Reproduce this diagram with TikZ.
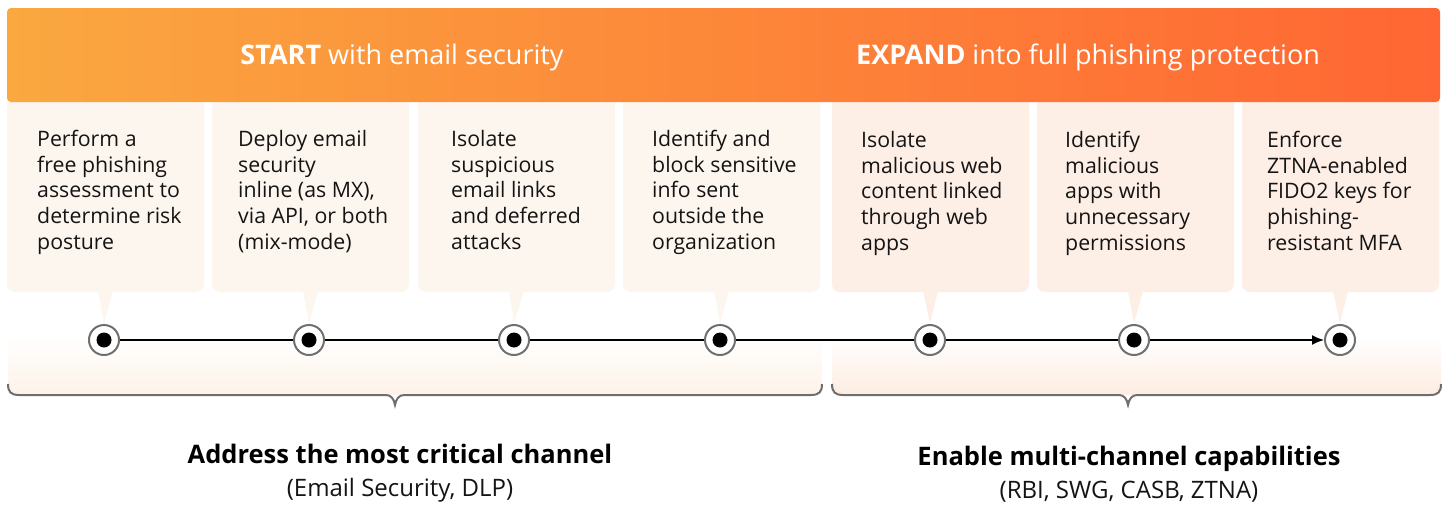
\documentclass[tikz,border=0pt]{standalone}
\usepackage{fontspec}
\setmainfont{Open Sans}
\usetikzlibrary{arrows.meta,calc}

\definecolor{bannerL}{RGB}{250,168,64}
\definecolor{bannerM}{RGB}{254,138,58}
\definecolor{bannerR}{RGB}{255,102,51}
\definecolor{creamL}{RGB}{253,246,238}
\definecolor{creamR}{RGB}{253,238,230}
\definecolor{regionL}{RGB}{253,242,232}
\definecolor{regionR}{RGB}{253,236,226}
\definecolor{ringgray}{RGB}{112,112,112}
\definecolor{bracegray}{RGB}{110,110,110}
\definecolor{inkgray}{RGB}{20,20,20}

\tikzset{
  stepbox/.style={rectangle, rounded corners=8pt, inner sep=0pt, outer sep=0pt,
    minimum width=197pt, minimum height=197pt, anchor=north west},
  leftbox/.style={stepbox, fill=creamL},
  rightbox/.style={stepbox, fill=creamR},
  boxtext/.style={anchor=north west, inner sep=0pt, align=left, text=inkgray,
    font=\fontsize{21.3}{25.7}\selectfont},
  ring/.style={circle, draw=ringgray, line width=2pt, fill=white,
    minimum size=30pt, inner sep=0pt},
  conn/.style={line width=1.6pt, black},
  bracket/.style={draw=bracegray, line width=2pt},
  headline/.style={text=white, inner sep=0pt, font=\fontsize{27}{31}\selectfont},
  capmain/.style={text=black, inner sep=0pt, font=\fontsize{25.5}{29}\selectfont\bfseries},
  capsub/.style={text=inkgray, inner sep=0pt, font=\fontsize{24}{28}\selectfont},
}

\begin{document}
\begin{tikzpicture}[x=1pt,y=-1pt]
\useasboundingbox (0,0) rectangle (1450,506);
\fill[white] (0,0) rectangle (1450,506);

% soft bands under the timeline
\shade[top color=white, bottom color=regionL]
  (8,336) -- (8,385) .. controls (8,392) and (11,395) .. (18,395)
  -- (812,395) .. controls (819,395) and (822,392) .. (822,385) -- (822,336) -- cycle;
\shade[top color=white, bottom color=regionR]
  (832,336) -- (832,385) .. controls (832,392) and (835,395) .. (842,395)
  -- (1431,395) .. controls (1438,395) and (1441,392) .. (1441,385) -- (1441,336) -- cycle;

% brackets
\draw[bracket] (8,384) .. controls (8,392) and (11,395) .. (19,395) -- (386,395)
  .. controls (391,395) and (394,399) .. (395,405)
  .. controls (396,399) and (399,395) .. (404,395) -- (811,395)
  .. controls (819,395) and (822,392) .. (822,384);
\draw[bracket] (832,384) .. controls (832,392) and (835,395) .. (843,395) -- (1119,395)
  .. controls (1124,395) and (1127,399) .. (1128,405)
  .. controls (1129,399) and (1132,395) .. (1137,395) -- (1430,395)
  .. controls (1438,395) and (1441,392) .. (1441,384);

% step boxes
\node[leftbox]  (b1) at (7,95) {};
\node[leftbox]  (b2) at (212,95) {};
\node[leftbox]  (b3) at (418,95) {};
\node[leftbox]  (b4) at (623,95) {};
\node[rightbox] (b5) at (832,95) {};
\node[rightbox] (b6) at (1037,95) {};
\node[rightbox] (b7) at (1242,95) {};

% banner
\shade[left color=bannerL, middle color=bannerM, right color=bannerR, rounded corners=4pt]
  (7,8) rectangle (1440,102);
\node[headline] (h1) at (402,57) {\textbf{START} with email security};
\node[headline] (h2) at (1088,57) {\textbf{EXPAND} into full phishing protection};

% box texts
\node[boxtext] (t1) at ($(b1.north west)+(30,35)$) {Perform a\\free phishing\\assessment to\\determine risk\\posture};
\node[boxtext] (t2) at ($(b2.north west)+(26,35)$) {Deploy email\\security\\inline (as MX),\\via API, or both\\(mix-mode)};
\node[boxtext] (t3) at ($(b3.north west)+(33,35)$) {Isolate\\suspicious\\email links\\and deferred\\attacks};
\node[boxtext] (t4) at ($(b4.north west)+(29,35)$) {Identify and\\block sensitive\\info sent\\outside the\\organization};
\node[boxtext] (t5) at ($(b5.north west)+(29,36)$) {Isolate\\malicious web\\content linked\\through web\\apps};
\node[boxtext] (t6) at ($(b6.north west)+(28,36)$) {Identify\\malicious\\apps with\\unnecessary\\permissions};
\node[boxtext] (t7) at ($(b7.north west)+(25,36)$) {Enforce\\ZTNA-enabled\\FIDO2 keys for\\phishing-\\resistant MFA};

% timeline stops
\node[ring] (c1) at (104,340) {};
\node[ring] (c2) at (309,340) {};
\node[ring] (c3) at (514,340) {};
\node[ring] (c4) at (720,340) {};
\node[ring] (c5) at (930,340) {};
\node[ring] (c6) at (1134,340) {};
\node[ring] (c7) at (1340,340) {};

% pointers from boxes to stops
\foreach \i/\c in {1/creamL,2/creamL,3/creamL,4/creamL,5/creamR,6/creamR,7/creamR}{
  \fill[\c] ([xshift=-7.5pt,yshift=1pt]b\i.south) -- ([xshift=7.5pt,yshift=1pt]b\i.south)
    -- ([yshift=1pt]c\i.north) -- cycle;
  \fill[black] (c\i) circle (7.5);
}

% connectors
\foreach \i/\j in {1/2,2/3,3/4,4/5,5/6}{
  \draw[conn] (c\i) -- (c\j);
}
\draw[conn, -{Latex[length=12pt,width=10pt]}] (c6) -- (c7);

% captions
\node[capmain] (m1) at (400,454) {Address the most critical channel};
\node[capsub]  (s1) at (400,490) {(Email Security, DLP)};
\node[capmain] (m2) at (1129,459) {Enable multi-channel capabilities};
\node[capsub]  (s2) at (1129,492) {(RBI, SWG, CASB, ZTNA)};
\end{tikzpicture}
\end{document}
